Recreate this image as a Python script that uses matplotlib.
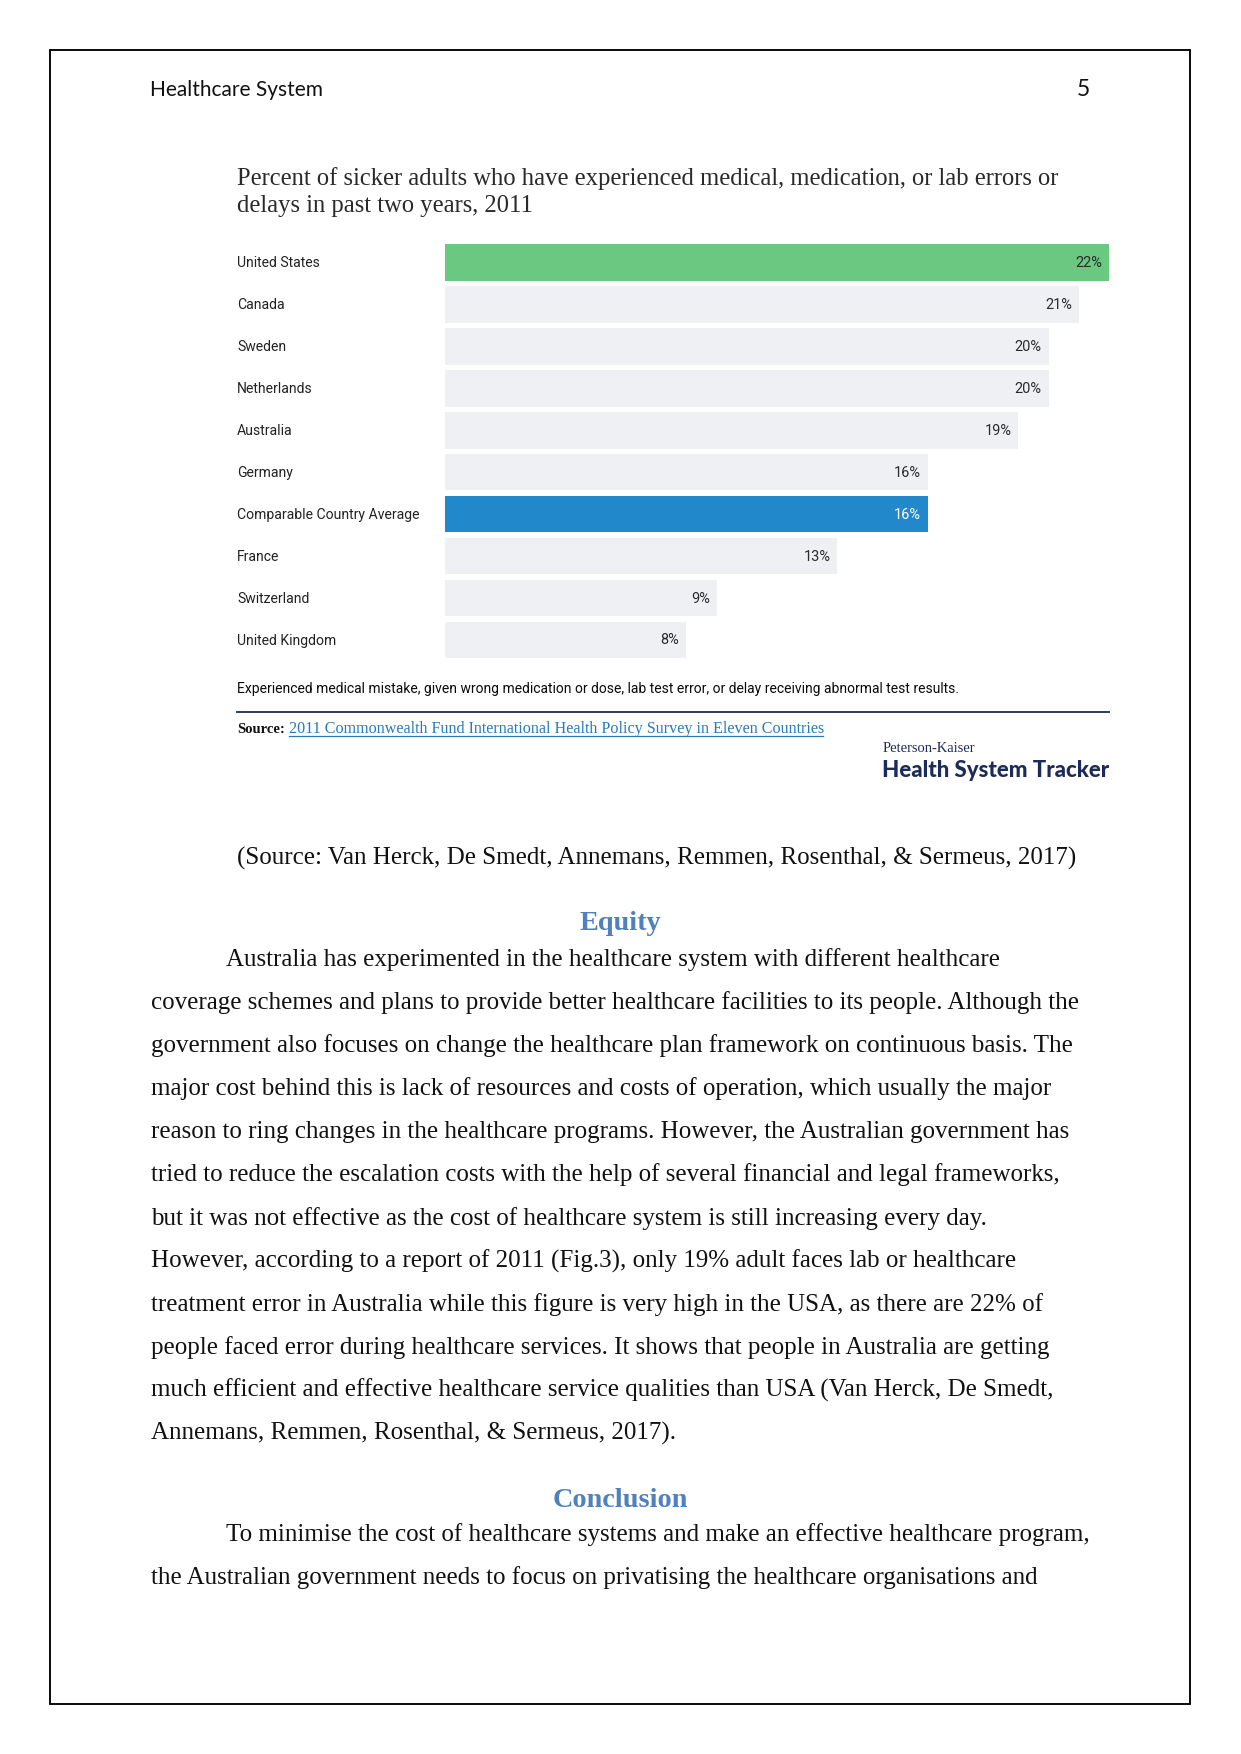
import matplotlib
matplotlib.use("Agg")
import matplotlib.pyplot as plt
from matplotlib.lines import Line2D
from matplotlib.patches import Rectangle
import matplotlib.transforms as mtransforms

# ---------------- data ----------------
countries = ["United States", "Canada", "Sweden", "Netherlands", "Australia",
             "Germany", "Comparable Country Average", "France", "Switzerland",
             "United Kingdom"]
values = [22, 21, 20, 20, 19, 16, 16, 13, 9, 8]
highlight = {"United States": "#6bc880", "Comparable Country Average": "#2189cb"}

chart_title = ["Percent of sicker adults who have experienced medical, medication, or lab errors or",
               "delays in past two years, 2011"]
footnote = "Experienced medical mistake, given wrong medication or dose, lab test error, or delay receiving abnormal test results."
source_label = "Source:"
source_link = "2011 Commonwealth Fund International Health Policy Survey in Eleven Countries"
citation = "(Source: Van Herck, De Smedt, Annemans, Remmen, Rosenthal, & Sermeus, 2017)"

equity_lines = [
    "Australia has experimented in the healthcare system with different healthcare",
    "coverage schemes and plans to provide better healthcare facilities to its people. Although the",
    "government also focuses on change the healthcare plan framework on continuous basis. The",
    "major cost behind this is lack of resources and costs of operation, which usually the major",
    "reason to ring changes in the healthcare programs. However, the Australian government has",
    "tried to reduce the escalation costs with the help of several financial and legal frameworks,",
    "but it was not effective as the cost of healthcare system is still increasing every day.",
    "However, according to a report of 2011 (Fig.3), only 19% adult faces lab or healthcare",
    "treatment error in Australia while this figure is very high in the USA, as there are 22% of",
    "people faced error during healthcare services. It shows that people in Australia are getting",
    "much efficient and effective healthcare service qualities than USA (Van Herck, De Smedt,",
    "Annemans, Remmen, Rosenthal, & Sermeus, 2017).",
]
conclusion_lines = [
    "To minimise the cost of healthcare systems and make an effective healthcare program,",
    "the Australian government needs to focus on privatising the healthcare organisations and",
]

# ---------------- page setup ----------------
W, H, DPI = 1241, 1754, 150
fig = plt.figure(figsize=(W / DPI, H / DPI), dpi=DPI)
fig.patch.set_facecolor("white")
renderer = fig.canvas.get_renderer()


def fx(x):
    return x / W


def fy(y):
    return 1 - y / H


def put(x, y, s, size, family, target_w=None, ha="left", **kw):
    t = fig.text(fx(x), fy(y), s, fontsize=size, family=family, ha=ha,
                 va="baseline", **kw)
    if target_w:
        w = t.get_window_extent(renderer).width
        t.set_fontsize(size * target_w / w)
    return t


def fit_size(s, family, target_w, **kw):
    t = fig.text(0, 0, s, fontsize=10, family=family, **kw)
    w = t.get_window_extent(renderer).width
    t.remove()
    return 10 * target_w / w


# page border
fig.add_artist(Rectangle((fx(50), fy(1704)), fx(1190) - fx(50), fy(50) - fy(1704),
                         transform=fig.transFigure, fill=False, ec="black", lw=0.9))

# header
put(150, 96, "Healthcare System", 11, "Lato", target_w=173, color="#111111")
put(1090, 96, "5", 11, "Lato", ha="right", color="#111111")

# ---------------- chart ----------------
put(237, 185, chart_title[0], 12, "Liberation Serif", target_w=824, color="#2a2a2a")
title_size = fig.texts[-1].get_fontsize()
put(237, 212, chart_title[1], title_size, "Liberation Serif", color="#2a2a2a")

row0, rowN = 262.5, 640.0
pitch = (rowN - row0) / (len(countries) - 1)
top_px, bot_px = row0 - pitch / 2, rowN + pitch / 2
left_px, right_px = 445.0, 1109.0
ax = fig.add_axes([fx(left_px), fy(bot_px), fx(right_px) - fx(left_px), fy(top_px) - fy(bot_px)])
ax.set_xlim(0, 22)
ax.set_ylim(len(countries) - 0.5, -0.5)
ax.axis("off")

ypos = list(range(len(countries)))
colors = [highlight.get(c, "#eef0f3") for c in countries]
ax.barh(ypos, values, height=0.87, color=colors, edgecolor="none")

lab_size = fit_size("Comparable Country Average", "Roboto", 183)
val_size = fit_size("22%", "Roboto", 27)
px2pt = 72 / DPI
blend = mtransforms.blended_transform_factory(fig.transFigure, ax.transData)
lab_tr = mtransforms.offset_copy(blend, fig=fig, y=-4.5 * px2pt, units="points")
val_tr = mtransforms.offset_copy(ax.transData, fig=fig, x=-7 * px2pt, y=-4.5 * px2pt, units="points")
for i, (c, v) in enumerate(zip(countries, values)):
    ax.text(fx(237), i, c, transform=lab_tr, fontsize=lab_size, family="Roboto",
            ha="left", va="baseline", color="#222222", clip_on=False)
    tc = "white" if c == "Comparable Country Average" else "#2a2a2a"
    ax.text(v, i, f"{v}%", transform=val_tr, fontsize=val_size, family="Roboto",
            ha="right", va="baseline", color=tc, clip_on=False)

# footnote, rule, source
put(237, 693, footnote, 8, "Roboto", target_w=720, color="#0a0a0a")
fig.add_artist(Line2D([fx(237), fx(1109)], [fy(712), fy(712)], transform=fig.transFigure,
                      color="#1f3658", lw=0.9))
put(237, 733, source_label, 8, "Liberation Serif", target_w=48, color="#111111", weight="bold")
put(289, 733, source_link, 8, "Liberation Serif", target_w=534, color="#2a7ab9")
fig.add_artist(Line2D([fx(289), fx(823)], [fy(736), fy(736)], transform=fig.transFigure,
                      color="#2a7ab9", lw=0.6))

# logo
put(883, 752, "Peterson-Kaiser", 7, "Liberation Serif", target_w=92, color="#1c2b5a")
put(882, 777, "Health System Tracker", 12, "Lato", target_w=227, color="#1c2b5a",
    weight="black")

# ---------------- body text ----------------
put(237, 865, citation, 12, "Liberation Serif", color="#111111")

head_size = fit_size("Conclusion", "Liberation Serif", 135, weight="bold")
put(620, 930, "Equity", head_size, "Liberation Serif", ha="center", weight="bold", color="#4f81bd")
for i, line in enumerate(equity_lines):
    x = 226 if i == 0 else 151
    put(x, 966 + i * 43.09, line, 12, "Liberation Serif", color="#111111")

put(620, 1507, "Conclusion", head_size, "Liberation Serif", ha="center", weight="bold", color="#4f81bd")
for i, line in enumerate(conclusion_lines):
    x = 226 if i == 0 else 151
    put(x, 1541 + i * 43.09, line, 12, "Liberation Serif", color="#111111")

fig.savefig("out.png", dpi=DPI, facecolor="white")
